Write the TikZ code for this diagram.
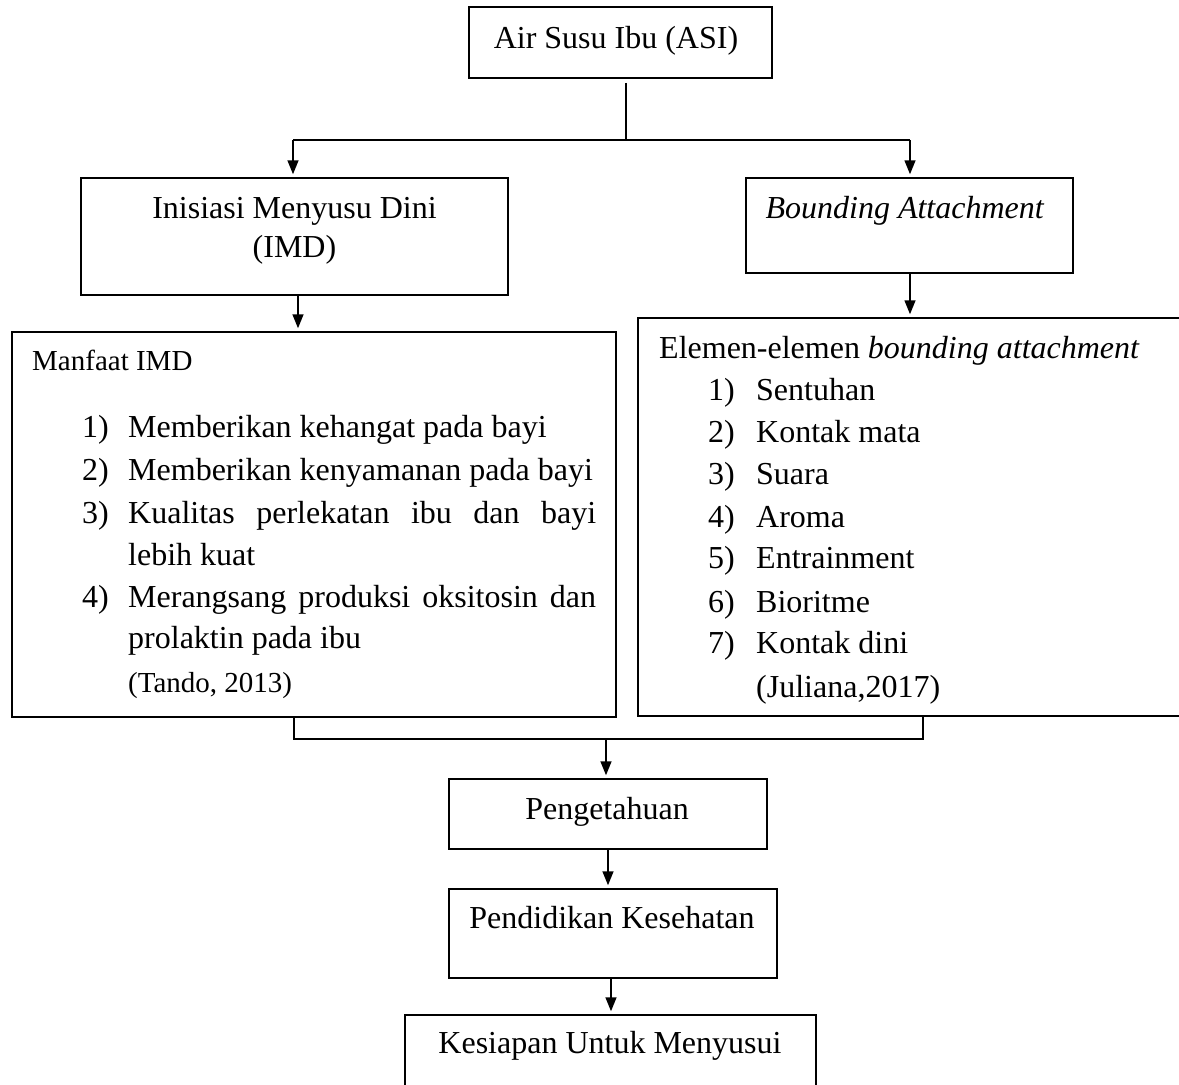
\documentclass[tikz,border=0pt]{standalone}
\usepackage{fontspec}
\setmainfont{Liberation Serif}
\usetikzlibrary{arrows.meta}
\begin{document}
\begin{tikzpicture}[x=1pt,y=-1pt,
  box/.style={draw, line width=1.5pt, rectangle, inner sep=0pt},
  txt/.style={inner sep=0pt, font=\fontsize{32}{38}\selectfont},
  small/.style={inner sep=0pt, font=\fontsize{29}{34}\selectfont},
  conn/.style={line width=1.5pt},
  arr/.style={line width=1.5pt, -{Triangle[length=14pt,width=11pt]}, shorten >=3pt}]
\useasboundingbox (0,0) rectangle (1179,1085);
\clip (0,0) rectangle (1179,1085);
\fill[white] (0,0) rectangle (1179,1085);
% boxes
\node[box, minimum width=303pt, minimum height=71pt] (asi) at (620.5,42.5) {};
\node[box, minimum width=427pt, minimum height=117pt] (imd) at (294.5,236.5) {};
\node[box, minimum width=327pt, minimum height=95pt] (ba) at (909.5,225.5) {};
\node[box, minimum width=604pt, minimum height=385pt] (man) at (314,524.5) {};
\node[box, minimum width=556pt, minimum height=398pt] (ele) at (916,517) {};
\node[box, minimum width=318pt, minimum height=70pt] (peng) at (608,814) {};
\node[box, minimum width=328pt, minimum height=89pt] (pend) at (613,933.5) {};
\node[box, minimum width=411pt, minimum height=85pt] (kes) at (610.5,1057.5) {};
% texts
\node[txt, anchor=base] (tasi) at (616,48) {Air Susu Ibu (ASI)};
\node[txt, anchor=base] (timd1) at (294.5,218) {Inisiasi Menyusu Dini};
\node[txt, anchor=base] (timd2) at (294.5,257) {(IMD)};
\node[txt, anchor=base] (tba) at (905,218) {\textit{Bounding Attachment}};
\node[small, anchor=base west] (tman) at (32,370) {Manfaat IMD};
\node[txt, anchor=base west] (m1n) at (82,437) {1)};
\node[txt, anchor=base west] (m1) at (128,437) {Memberikan kehangat pada bayi};
\node[txt, anchor=base west] (m2n) at (82,480) {2)};
\node[txt, anchor=base west] (m2) at (128,480) {Memberikan kenyamanan pada bayi};
\node[txt, anchor=base west] (m3n) at (82,523) {3)};
\node[txt, anchor=base west] (m3) at (128,523) {\hbox to 468pt{Kualitas\hfill perlekatan\hfill ibu\hfill dan\hfill bayi}};
\node[txt, anchor=base west] (m3b) at (128,565) {lebih kuat};
\node[txt, anchor=base west] (m4n) at (82,607) {4)};
\node[txt, anchor=base west] (m4) at (128,607) {\hbox to 468pt{Merangsang\hfill produksi\hfill oksitosin\hfill dan}};
\node[txt, anchor=base west] (m4b) at (128,648) {prolaktin pada ibu};
\node[small, anchor=base west] (mref) at (128,692) {(Tando, 2013)};
\node[txt, anchor=base west] (tele) at (659,358) {Elemen-elemen \textit{bounding attachment}};
\node[txt, anchor=base west] (e1n) at (708,400) {1)};
\node[txt, anchor=base west] (e1) at (756,400) {Sentuhan};
\node[txt, anchor=base west] (e2n) at (708,442) {2)};
\node[txt, anchor=base west] (e2) at (756,442) {Kontak mata};
\node[txt, anchor=base west] (e3n) at (708,484) {3)};
\node[txt, anchor=base west] (e3) at (756,484) {Suara};
\node[txt, anchor=base west] (e4n) at (708,527) {4)};
\node[txt, anchor=base west] (e4) at (756,527) {Aroma};
\node[txt, anchor=base west] (e5n) at (708,568) {5)};
\node[txt, anchor=base west] (e5) at (756,568) {Entrainment};
\node[txt, anchor=base west] (e6n) at (708,612) {6)};
\node[txt, anchor=base west] (e6) at (756,612) {Bioritme};
\node[txt, anchor=base west] (e7n) at (708,653) {7)};
\node[txt, anchor=base west] (e7) at (756,653) {Kontak dini};
\node[txt, anchor=base west] (eref) at (756,697) {(Juliana,2017)};
\node[txt, anchor=base] (tpeng) at (607,819) {Pengetahuan};
\node[txt, anchor=base] (tpend) at (612,928) {Pendidikan Kesehatan};
\node[txt, anchor=base] (tkes) at (610,1053) {Kesiapan Untuk Menyusui};
% connectors
\coordinate (jt) at (626,140);
\coordinate (jl) at (293,140);
\coordinate (jr) at (910,140);
\draw[conn] ([xshift=5.5pt,yshift=-4pt]asi.south) -- (jt);
\draw[conn] (jl) -- (jr);
\draw[arr] (jl) -- (jl |- imd.north);
\draw[arr] (jr) -- (jr |- ba.north);
\coordinate (ja) at (298,295);
\draw[arr] (ja) -- (ja |- man.north);
\coordinate (jb) at (910,273);
\draw[arr] (jb) -- (jb |- ele.north);
\coordinate (jb1) at (294,739);
\coordinate (jb2) at (923,739);
\coordinate (jm) at (606,739);
\draw[conn] (jb1 |- man.south) -- (jb1) -- (jb2) -- (jb2 |- ele.south);
\draw[arr] (jm) -- (jm |- peng.north);
\draw[arr] ([xshift=0pt]peng.south) -- (peng.south |- pend.north);
\coordinate (jp) at (611,978);
\draw[arr] (jp) -- (jp |- kes.north);
\end{tikzpicture}
\end{document}
